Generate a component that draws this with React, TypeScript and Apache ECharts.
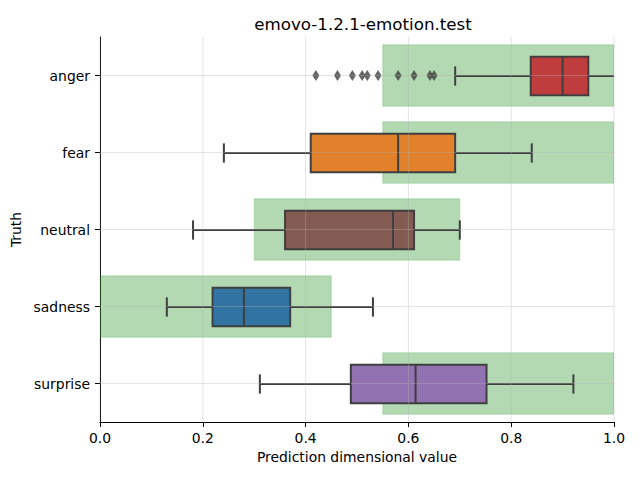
import React, { useEffect, useRef } from 'react';
import * as echarts from 'echarts';

const categories = ['anger', 'fear', 'neutral', 'sadness', 'surprise'];
const boxMin = [0.691, 0.241, 0.181, 0.130, 0.311];
const boxQ1 = [0.838, 0.410, 0.360, 0.219, 0.488];
const boxMedian = [0.900, 0.580, 0.570, 0.280, 0.614];
const boxQ3 = [0.950, 0.691, 0.611, 0.370, 0.752];
const boxMax = [1.02, 0.840, 0.700, 0.531, 0.921];
const boxColors = ['#c03d3e', '#e1812c', '#845b53', '#3274a1', '#9372b2'];
const targetStart = [0.55, 0.55, 0.30, 0.0, 0.55];
const targetEnd = [1.0, 1.0, 0.70, 0.45, 1.0];
const angerOutliers = [0.420, 0.462, 0.491, 0.510, 0.520, 0.541, 0.580, 0.611, 0.642, 0.650];
const xTicks = [0, 0.2, 0.4, 0.6, 0.8, 1.0];

const FONT = 'DejaVu Sans';
const EDGE = '#3f3f3f';
const FS = 13.9;

export default function App() {
  const ref = useRef<HTMLDivElement>(null);
  useEffect(() => {
    if (!ref.current) return;
    const chart = echarts.init(ref.current, undefined, { renderer: 'svg' });

    const targetData = categories.map((_, i) => [i, targetStart[i], targetEnd[i]]);
    const boxData = categories.map((_, i) => [i, boxMin[i], boxQ1[i], boxMedian[i], boxQ3[i], boxMax[i]]);
    const outlierData = angerOutliers.map((v) => [v, 0]);

    const option: any = {
      animation: false,
      title: {
        text: 'emovo-1.2.1-emotion.test',
        left: 358,
        top: 10,
        textAlign: 'center',
        textStyle: { fontFamily: FONT, fontSize: 16.7, fontWeight: 'normal', color: '#000' },
      },
      grid: { left: 100, right: 26, top: 37, bottom: 58, containLabel: false },
      xAxis: {
        type: 'value',
        min: 0,
        max: 1,
        interval: 0.2,
        name: 'Prediction dimensional value',
        nameLocation: 'middle',
        nameGap: 26,
        nameTextStyle: { fontFamily: FONT, fontSize: FS, color: '#000' },
        axisLine: { show: true, onZero: false, lineStyle: { color: '#000', width: 1 } },
        axisTick: { show: true, length: 5, lineStyle: { color: '#000' } },
        axisLabel: {
          fontFamily: FONT,
          fontSize: FS,
          color: '#000',
          margin: 9,
          formatter: (v: number) => v.toFixed(1),
        },
        splitLine: { show: false },
      },
      yAxis: {
        type: 'category',
        data: categories,
        inverse: true,
        boundaryGap: true,
        name: 'Truth',
        nameLocation: 'middle',
        nameGap: 70,
        nameRotate: 90,
        nameTextStyle: { fontFamily: FONT, fontSize: FS, color: '#000' },
        axisLine: { show: true, lineStyle: { color: '#000', width: 1 } },
        axisTick: { show: true, alignWithLabel: true, length: 5, lineStyle: { color: '#000' } },
        axisLabel: { fontFamily: FONT, fontSize: FS, color: '#000', margin: 10 },
        splitLine: { show: false },
      },
      series: [
        {
          type: 'custom',
          name: 'target',
          clip: true,
          z: 1,
          encode: { x: [1, 2], y: 0 },
          data: targetData,
          renderItem: (params: any, api: any) => {
            const idx = api.value(0);
            const p0 = api.coord([api.value(1), idx]);
            const p1 = api.coord([api.value(2), idx]);
            const band = api.size([0, 1])[1];
            const h = band * 0.8;
            return {
              type: 'rect',
              shape: { x: p0[0], y: p0[1] - h / 2, width: p1[0] - p0[0], height: h },
              style: { fill: 'rgba(0,128,0,0.3)', stroke: 'rgba(0,128,0,0.12)', lineWidth: 1.5 },
            };
          },
        },
        {
          type: 'custom',
          name: 'boxes',
          clip: true,
          z: 2,
          encode: { x: [1, 2, 3, 4, 5], y: 0 },
          data: boxData,
          renderItem: (params: any, api: any) => {
            const idx = api.value(0);
            const band = api.size([0, 1])[1];
            const bh = band * 0.5;
            const ch = bh * 0.5;
            const pMin = api.coord([api.value(1), idx]);
            const pQ1 = api.coord([api.value(2), idx]);
            const pMed = api.coord([api.value(3), idx]);
            const pQ3 = api.coord([api.value(4), idx]);
            const pMax = api.coord([api.value(5), idx]);
            const y = Math.round(pMed[1]);
            const lineStyle = { stroke: EDGE, lineWidth: 2, fill: 'none' };
            return {
              type: 'group',
              children: [
                { type: 'line', shape: { x1: pMin[0], y1: y, x2: pQ1[0], y2: y }, style: lineStyle },
                { type: 'line', shape: { x1: pQ3[0], y1: y, x2: pMax[0], y2: y }, style: lineStyle },
                { type: 'line', shape: { x1: pMin[0], y1: y - ch / 2, x2: pMin[0], y2: y + ch / 2 }, style: lineStyle },
                { type: 'line', shape: { x1: pMax[0], y1: y - ch / 2, x2: pMax[0], y2: y + ch / 2 }, style: lineStyle },
                {
                  type: 'rect',
                  shape: { x: pQ1[0], y: y - bh / 2, width: pQ3[0] - pQ1[0], height: bh },
                  style: { fill: boxColors[idx], stroke: EDGE, lineWidth: 2 },
                },
                { type: 'line', shape: { x1: pMed[0], y1: y - bh / 2, x2: pMed[0], y2: y + bh / 2 }, style: lineStyle },
              ],
            };
          },
        },
        {
          type: 'scatter',
          name: 'outliers',
          z: 3,
          symbol: 'diamond',
          symbolSize: [7, 11],
          itemStyle: { color: EDGE },
          data: outlierData,
        },
        {
          type: 'custom',
          name: 'grid',
          z: 4,
          silent: true,
          encode: { x: 0, y: 1 },
          data: [[0, 0]],
          renderItem: (params: any, api: any) => {
            const cs = params.coordSys;
            const children: any[] = [];
            const stroke = 'rgba(176,176,176,0.45)';
            xTicks.forEach((t) => {
              const p = api.coord([t, 0]);
              children.push({ type: 'line', shape: { x1: p[0], y1: cs.y, x2: p[0], y2: cs.y + cs.height }, style: { stroke, lineWidth: 0.8 } });
            });
            categories.forEach((_, i) => {
              const p = api.coord([0, i]);
              children.push({ type: 'line', shape: { x1: cs.x, y1: p[1], x2: cs.x + cs.width, y2: p[1] }, style: { stroke, lineWidth: 0.8 } });
            });
            return { type: 'group', children };
          },
        },
      ],
    };
    chart.setOption(option);
    return () => chart.dispose();
  }, []);
  return <div ref={ref} style={{ width: 640, height: 480, position: 'absolute', left: 0, top: 0 }} />;
}
